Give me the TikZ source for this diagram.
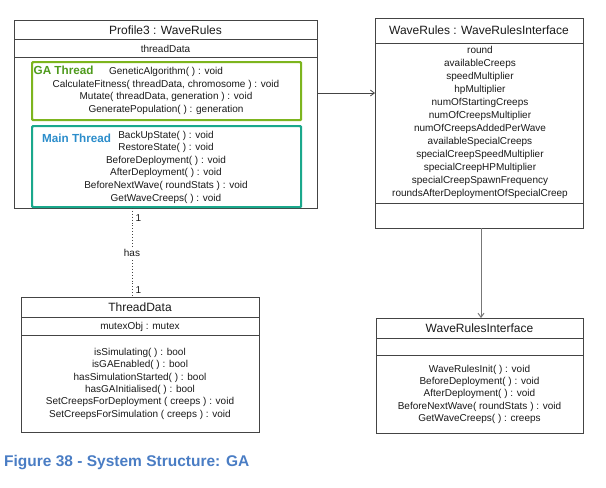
\documentclass[tikz,border=0pt]{standalone}
\usepackage{fontspec}
\setmainfont{Liberation Sans}
\usetikzlibrary{arrows.meta}
\definecolor{linegray}{HTML}{444444}
\definecolor{txt}{HTML}{1A1A1A}
\definecolor{gagreen}{HTML}{7DB51E}
\definecolor{gatext}{HTML}{4E9A1C}
\definecolor{mainteal}{HTML}{1AA88C}
\definecolor{maintext}{HTML}{2B8DCB}
\definecolor{capblue}{HTML}{4A7DC4}
\definecolor{arrgray}{HTML}{777777}
\begin{document}
\begin{tikzpicture}[x=1pt,y=-1pt,
  umlbox/.style={draw=linegray, line width=0.8pt, anchor=north west, inner sep=0, fill=white},
  thread/.style={draw=#1, line width=2.2pt, rounded corners=1pt, anchor=north west, inner sep=0},
  title/.style={font=\fontsize{12}{14}\selectfont, text=txt, inner sep=0},
  member/.style={font=\fontsize{10}{#1}\selectfont, text=txt, align=center, inner sep=0},
  member/.default=12.6,
  sep/.style={draw=linegray, line width=0.8pt},
  lbl/.style={font=\fontsize{10}{11}\selectfont, text=txt, inner sep=0}]
\useasboundingbox (0,0) rectangle (606,488);

% Profile3 : WaveRules
\node[umlbox, minimum width=303pt, minimum height=188pt] (p3) at (14,20) {};
\draw[sep] (14,39) -- (317,39);
\draw[sep] (14,57) -- (317,57);
\node[title] (p3t) at (165.5,30) {Profile3 : WaveRules};
\node[member] (p3a) at (165.5,48.5) {threadData};
\node[thread=gagreen, minimum width=269pt, minimum height=58pt] (ga) at (31,61) {};
\node[thread=mainteal, minimum width=269pt, minimum height=81pt] (mt) at (31,125) {};
\node[font=\bfseries\fontsize{11.7}{13}\selectfont, text=gatext, anchor=west, inner sep=0] (gal) at (33.5,70.5) {GA Thread};
\node[font=\bfseries\fontsize{11.7}{13}\selectfont, text=maintext, anchor=west, inner sep=0] (mtl) at (42,138.5) {Main Thread};
\node[member] (gam) at (166,90.8) {GeneticAlgorithm( ) : void\\CalculateFitness( threadData, chromosome ) : void\\Mutate( threadData, generation ) : void\\GeneratePopulation( ) : generation};
\node[member] (mtm) at (166,167) {BackUpState( ) : void\\RestoreState( ) : void\\BeforeDeployment( ) : void\\AfterDeployment( ) : void\\BeforeNextWave( roundStats ) : void\\GetWaveCreeps( ) : void};

% WaveRules : WaveRulesInterface
\node[umlbox, minimum width=208pt, minimum height=210pt] (wr) at (375,18) {};
\draw[sep] (375,43) -- (583,43);
\draw[sep] (375,203) -- (583,203);
\node[title] (wrt) at (479,30.5) {WaveRules : WaveRulesInterface};
\node[member=13] (wra) at (480,122.5) {round\\availableCreeps\\speedMultiplier\\hpMultiplier\\numOfStartingCreeps\\numOfCreepsMultiplier\\numOfCreepsAddedPerWave\\availableSpecialCreeps\\specialCreepSpeedMultiplier\\specialCreepHPMultiplier\\specialCreepSpawnFrequency\\roundsAfterDeploymentOfSpecialCreep};

% WaveRulesInterface
\node[umlbox, minimum width=207pt, minimum height=115pt] (wri) at (376,318) {};
\draw[sep] (376,338) -- (583,338);
\draw[sep] (376,355) -- (583,355);
\node[title] (writ) at (479.5,328.5) {WaveRulesInterface};
\node[member=12.3] (wrim) at (479.5,394.3) {WaveRulesInit( ) : void\\BeforeDeployment( ) : void\\AfterDeployment( ) : void\\BeforeNextWave( roundStats ) : void\\GetWaveCreeps( ) : creeps};

% ThreadData
\node[umlbox, minimum width=238pt, minimum height=135pt] (td) at (21,297) {};
\draw[sep] (21,317) -- (259,317);
\draw[sep] (21,335) -- (259,335);
\node[title] (tdt) at (140,307.5) {ThreadData};
\node[member] (tda) at (140,327) {mutexObj : mutex};
\node[member=12.4] (tdm) at (140,383.8) {isSimulating( ) : bool\\isGAEnabled( ) : bool\\hasSimulationStarted( ) : bool\\hasGAInitialised( ) : bool\\SetCreepsForDeployment ( creeps ) : void\\SetCreepsForSimulation ( creeps ) : void};

% connectors
\coordinate (a1) at (317,93);
\coordinate (a2) at (375,93);
\draw[linegray, line width=0.8pt, -{Straight Barb[length=4pt,width=6pt]}] (a1) -- (a2);
\coordinate (b1) at (481,228);
\coordinate (b2) at (481,318);
\draw[arrgray, line width=1pt, -{Straight Barb[length=4pt,width=6pt]}] (b1) -- (b2);
\coordinate (c1) at (132,208);
\coordinate (c2) at (132,297);
\draw[linegray, line width=0.9pt, dotted] (c1) -- (c2);
\node[lbl, fill=white, inner sep=1pt] (has) at (132,253) {has};
\node[lbl, anchor=west] (m1) at (135.5,218) {1};
\node[lbl, anchor=west] (m2) at (135.5,290) {1};

% caption
\node[font=\bfseries\fontsize{15.5}{18}\selectfont, text=capblue, anchor=west, inner sep=0] (cap) at (4,463) {Figure 38 - System Structure: GA};
\end{tikzpicture}
\end{document}
